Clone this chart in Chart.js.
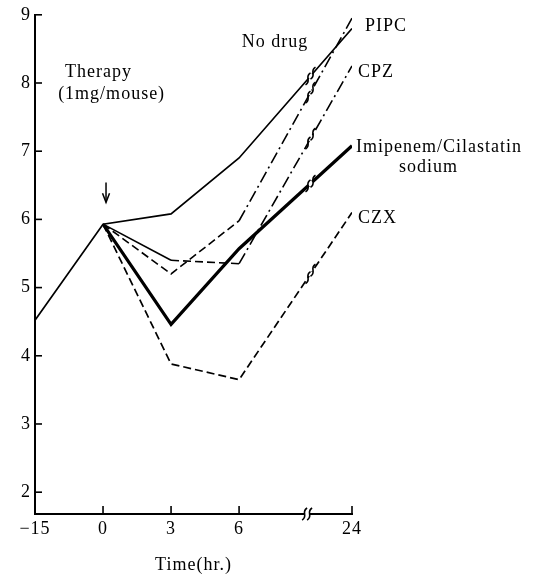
<!DOCTYPE html>
<html><head><meta charset="utf-8">
<script src="https://cdn.jsdelivr.net/npm/chart.js@4"></script>
<style>html,body{margin:0;padding:0;background:#fff}canvas{display:block}</style>
</head><body>
<canvas id="c" width="538" height="579"></canvas>
<script>
// ---- data ----
const times = [-15, 0, 3, 6, 24];
const xTickLabels = ['−15', '0', '3', '6', '24'];
const yTicks = [2, 3, 4, 5, 6, 7, 8, 9];
const noDrug   = [4.52, 5.93, 6.08, 6.90, 8.80];
const pipc     = [null, 5.93, 5.20, 5.98, 8.95];
const cpz      = [null, 5.93, 5.40, 5.35, 8.25];
const imipenem = [null, 5.93, 4.46, 5.57, 7.08];
const czx      = [null, 5.93, 3.88, 3.65, 6.10];
const seriesNames = ['No drug', 'PIPC', 'CPZ', 'Imipenem/Cilastatin', 'CZX'];

// ---- broken time axis (−15..0, 0..6 expanded, 6..24 compressed) ----
function axisPos(t) {
  if (t <= 0) return 1 + t / 15;
  if (t <= 6) return 1 + t / 3;
  return 3 + (t - 6) * 1.66 / 18;
}
const BREAK_POS = 4.0;
const FONT = '"Liberation Serif", "DejaVu Serif", serif';
const INK = '#000';

const dashed = [8, 4], dashDot = [12, 4, 2, 4];
function mk(label, vals, width, dashes) {
  const pts = [];
  vals.forEach((v, i) => { if (v !== null) pts.push({ x: axisPos(times[i]), y: v }); });
  return {
    label, data: pts, borderColor: INK, borderWidth: width, pointRadius: 0,
    tension: 0, fill: false, borderJoinStyle: 'miter',
    segment: { borderDash: c => dashes[c.p0DataIndex] || [] }
  };
}
const datasets = [
  mk(seriesNames[0], noDrug, 1.7, [[], [], [], []]),
  mk(seriesNames[1], pipc, 1.6, [dashed, dashed, dashDot]),
  mk(seriesNames[2], cpz, 1.6, [[], dashed, dashDot]),
  mk(seriesNames[3], imipenem, 3.2, [[], [], []]),
  mk(seriesNames[4], czx, 1.7, [dashed, dashed, dashed])
];

// series-end label offsets (px from last point)
const endLabels = [
  null,
  { lines: ['PIPC'], dx: 13, dy: 8 },
  { lines: ['CPZ'], dx: 6, dy: 6 },
  { lines: ['Imipenem/Cilastatin', 'sodium'], dx: 4, dy: 2, second: 43 },
  { lines: ['CZX'], dx: 6, dy: 6 }
];
// free text annotations in axis units
const notes = [
  { text: 'No drug', x: 3.04, y: 8.59 },
  { text: 'Therapy', x: 0.44, y: 8.16 },
  { text: '(1mg/mouse)', x: 0.34, y: 7.83 }
];

function sMark(ctx, x, y) {
  ctx.beginPath();
  ctx.moveTo(x - 2.5, y + 6);
  ctx.bezierCurveTo(x + 4, y + 2, x - 4, y - 2, x + 2.5, y - 6);
  ctx.stroke();
}
function breakMark(ctx, x, y, ang) {
  ctx.save();
  ctx.strokeStyle = '#fff';
  ctx.lineWidth = 6;
  ctx.setLineDash([]);
  ctx.beginPath();
  ctx.moveTo(x - 2.5 * Math.cos(ang), y - 2.5 * Math.sin(ang));
  ctx.lineTo(x + 2.5 * Math.cos(ang), y + 2.5 * Math.sin(ang));
  ctx.stroke();
  ctx.strokeStyle = INK;
  ctx.lineWidth = 1.6;
  sMark(ctx, x - 2.5, y - 2.5 * Math.tan(ang));
  sMark(ctx, x + 2.5, y + 2.5 * Math.tan(ang));
  ctx.restore();
}

const decor = {
  id: 'decor',
  beforeUpdate(chart) { chart.ctx.letterSpacing = '1px'; },
  beforeDraw(chart) { chart.ctx.letterSpacing = '1px'; },
  afterDraw(chart) {
    const ctx = chart.ctx, xs = chart.scales.x, ys = chart.scales.y, a = chart.chartArea;
    ctx.save();
    ctx.strokeStyle = INK; ctx.lineWidth = 1.6; ctx.setLineDash([]);
    // y ticks (inside)
    yTicks.forEach(v => {
      const y = ys.getPixelForValue(v);
      ctx.beginPath(); ctx.moveTo(a.left, y); ctx.lineTo(a.left + 7, y); ctx.stroke();
    });
    // x ticks (inside)
    times.slice(1).forEach(t => {
      const x = xs.getPixelForValue(axisPos(t));
      ctx.beginPath(); ctx.moveTo(x, a.bottom); ctx.lineTo(x, a.bottom - 8); ctx.stroke();
    });
    // break on x axis
    breakMark(ctx, xs.getPixelForValue(BREAK_POS), a.bottom, 0);
    // break on each line
    chart.data.datasets.forEach((ds, i) => {
      const el = chart.getDatasetMeta(i).data;
      const p0 = el[el.length - 2], p1 = el[el.length - 1];
      const bx = xs.getPixelForValue(BREAK_POS + 0.05);
      const f = (bx - p0.x) / (p1.x - p0.x);
      const by = p0.y + f * (p1.y - p0.y);
      breakMark(ctx, bx, by, Math.atan2(p1.y - p0.y, p1.x - p0.x));
    });
    // therapy arrow
    const ax = xs.getPixelForValue(axisPos(0)) + 3;
    const y1 = ys.getPixelForValue(6.54), y2 = ys.getPixelForValue(6.25);
    ctx.lineWidth = 1.5;
    ctx.beginPath(); ctx.moveTo(ax, y1); ctx.lineTo(ax, y2); ctx.stroke();
    ctx.beginPath(); ctx.moveTo(ax - 3.5, y2 - 9); ctx.lineTo(ax, y2); ctx.lineTo(ax + 3.5, y2 - 9); ctx.stroke();
    // texts
    ctx.fillStyle = INK;
    ctx.font = '18px ' + FONT;
    ctx.letterSpacing = '1px';
    ctx.textBaseline = 'middle';
    ctx.textAlign = 'left';
    notes.forEach(n => ctx.fillText(n.text, xs.getPixelForValue(n.x), ys.getPixelForValue(n.y)));
    chart.data.datasets.forEach((ds, i) => {
      const L = endLabels[i]; if (!L) return;
      const el = chart.getDatasetMeta(i).data; const p = el[el.length - 1];
      ctx.fillText(L.lines[0], p.x + L.dx, p.y + L.dy);
      if (L.lines[1]) ctx.fillText(L.lines[1], p.x + L.dx + L.second, p.y + L.dy + 20);
    });
    ctx.restore();
  }
};

new Chart(document.getElementById('c'), {
  type: 'line',
  data: { datasets },
  options: {
    responsive: false, animation: false, devicePixelRatio: 1,
    layout: { padding: { left: 0, right: 186, top: 13, bottom: 0 } },
    plugins: { legend: { display: false }, tooltip: { enabled: false } },
    scales: {
      x: {
        type: 'linear', min: 0, max: axisPos(24),
        afterBuildTicks: s => { s.ticks = times.map(t => ({ value: axisPos(t) })); },
        ticks: { callback: (v, i) => xTickLabels[i], font: { family: FONT, size: 18 }, color: INK, padding: 4, maxRotation: 0, autoSkip: false },
        grid: { display: false, drawTicks: false },
        border: { display: true, color: INK, width: 2 },
        title: { display: true, text: 'Time(hr.)', font: { family: FONT, size: 18 }, color: INK, padding: { top: 4, bottom: 3 } },
        afterFit: s => { s.height = 65; }
      },
      y: {
        min: 1.68, max: 9,
        afterBuildTicks: s => { s.ticks = yTicks.map(v => ({ value: v })); },
        ticks: { font: { family: FONT, size: 18 }, color: INK, padding: 4 },
        grid: { display: false, drawTicks: false },
        border: { display: true, color: INK, width: 2 },
        afterFit: s => { s.width = 35; }
      }
    }
  },
  plugins: [decor]
});
</script>
</body></html>
